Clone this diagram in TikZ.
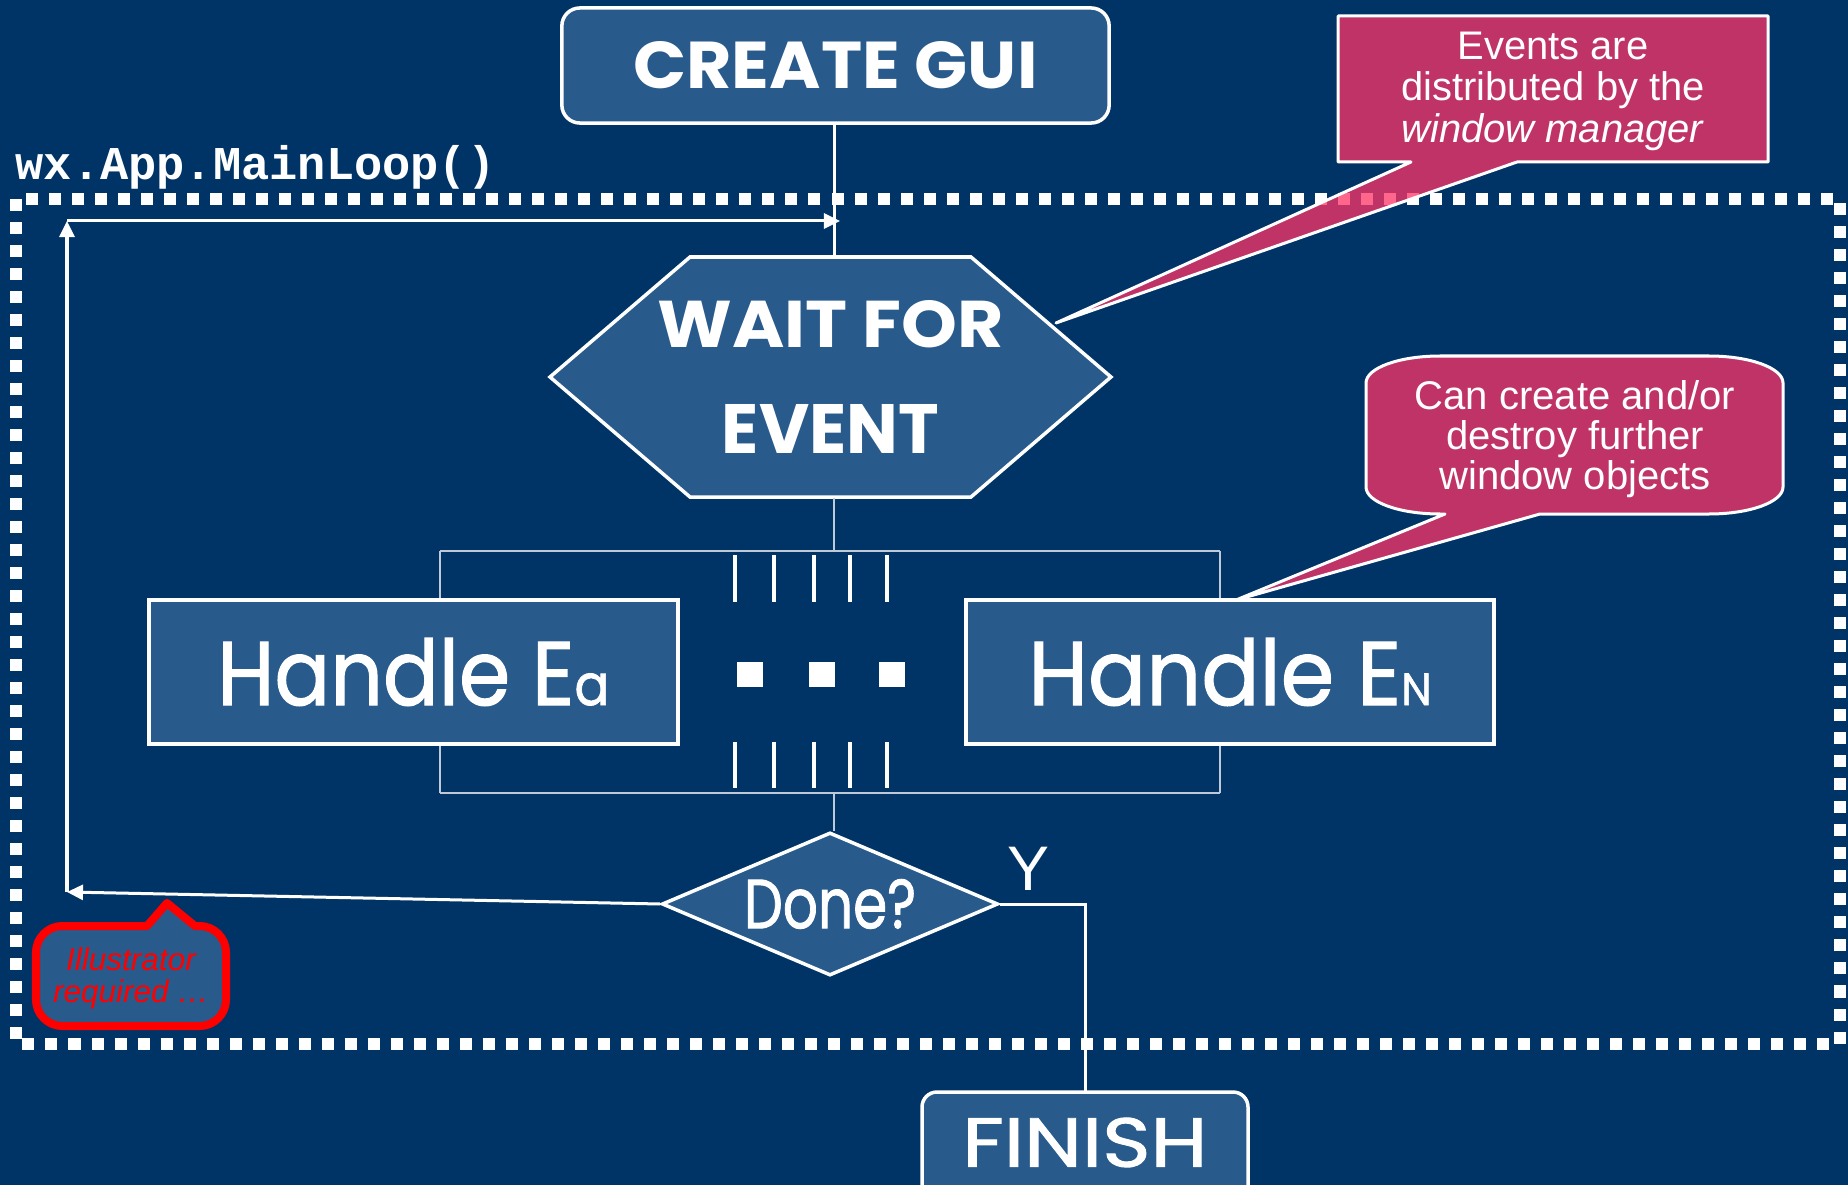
\documentclass[tikz,border=0pt]{standalone}
\usepackage{fontspec}
\setmainfont{Liberation Sans}
\newfontfamily\comic{Poppins}
\newfontfamily\comicr{Poppins}[FakeBold=1.3]
\newfontfamily\codefont{Liberation Mono}
\usetikzlibrary{arrows.meta,shapes.geometric,calc}
\definecolor{bgblue}{RGB}{0,51,102}
\definecolor{boxblue}{RGB}{40,90,140}
\definecolor{callpink}{RGB}{255,51,102}
\definecolor{bracketgrey}{RGB}{190,202,216}
\definecolor{illred}{RGB}{255,0,0}
\begin{document}
\begin{tikzpicture}[x=0.01cm, y=-0.01cm,
  flowbox/.style={draw=white, line width=0.035cm, fill=boxblue, inner sep=0pt, text=white},
  roundbox/.style={flowbox, rounded corners=0.18cm},
  link/.style={draw=white, line width=0.03cm},
  fanline/.style={draw=bracketgrey, line width=0.02cm},
  looparrow/.style={link, -{Triangle[length=0.16cm,width=0.15cm]}},
  callout/.style={fill=callpink, fill opacity=0.75, draw=white, line width=0.03cm, line join=round},
  illcallout/.style={fill=boxblue, draw=illred, line width=0.08cm, line join=round},
  loopborder/.style={draw=white, line width=0.12cm, dash pattern=on 0.12cm off 0.11cm},
  tickline/.style={draw=white, line width=0.035cm},
  calltext/.style={text=white, align=center, inner sep=0pt, anchor=north, font=\fontsize{11.35pt}{11.8pt}\selectfont}
]
\useasboundingbox (0,0) rectangle (1848,1185);
\clip (0,0) rectangle (1848,1185);
\fill[bgblue] (0,0) rectangle (1848,1185);

% title
\node[anchor=base west, inner sep=0pt, text=white, font=\codefont\bfseries\fontsize{13.37pt}{14pt}\selectfont] (title) at (15,180) {wx.App.MainLoop()};

% main loop border
\draw[loopborder] (16,199) rectangle (1840,1044);

% coordinates
\coordinate (btopL) at (440,551);
\coordinate (btopR) at (1220,551);
\coordinate (btop) at (834,551);
\coordinate (bbotL) at (440,793);
\coordinate (bbotR) at (1220,793);
\coordinate (bbot) at (834,793);
\coordinate (lb) at (67,892);
\coordinate (lt) at (67,221);
\coordinate (entry) at (840,221);

% nodes
\node[roundbox, minimum width=5.47cm, minimum height=1.15cm] (create) at (835.5,65.5)
  {\resizebox{4.04cm}{0.47cm}{\comic\bfseries CREATE GUI}};

\path[flowbox] (550,377) -- (690,257) -- (971,257) -- (1111,377) -- (971,497) -- (690,497) -- cycle;
\node[inner sep=0pt, minimum width=5.61cm, minimum height=2.40cm, text=white, align=center,
      font=\fontsize{10pt}{29.9pt}\selectfont] (wait) at (830.5,377)
  {\resizebox{3.46cm}{0.47cm}{\comic\bfseries WAIT FOR}\\\resizebox{2.17cm}{0.49cm}{\comic\bfseries EVENT}};

\node[flowbox, minimum width=5.29cm, minimum height=1.44cm] (hea) at (413.5,672)
  {\resizebox{3.92cm}{0.67cm}{\comicr\fontsize{20pt}{24pt}\selectfont Handle E{\fontsize{12.6pt}{14pt}\selectfont a}}};
\node[flowbox, minimum width=5.28cm, minimum height=1.44cm] (hen) at (1230,672)
  {\resizebox{4.03cm}{0.67cm}{\comicr\fontsize{20pt}{24pt}\selectfont Handle E{\fontsize{10pt}{12pt}\selectfont N}}};

\node[flowbox, diamond, aspect=2.35, minimum width=3.36cm, minimum height=1.43cm] (done) at (830,904)
  {\resizebox{1.72cm}{0.49cm}{\comicr Done?}};

\path[roundbox, rounded corners=0.15cm] (922,1092) rectangle (1248,1215);
\node[inner sep=0pt, minimum width=3.26cm, minimum height=0.9cm, anchor=north, text=white,
      text height=0.58cm, text depth=0cm] (finish) at (1085,1092)
  {\resizebox{2.45cm}{0.49cm}{\comicr FINISH}};

\node[anchor=base, inner sep=0pt, text=white, font=\fontsize{17.9pt}{20pt}\selectfont] (ylab) at (1028,890) {Y};

% connectors
\draw[link] (create.south -| btop) -- (wait.north -| btop);
\draw[fanline] (wait.south -| btop) -- (btop);
\draw[fanline] (btopL) -- (btopR);
\draw[fanline] (btopL) -- (btopL |- hea.north);
\draw[fanline] (btopR) -- (btopR |- hen.north);
\draw[fanline] (bbotL) -- (bbotR);
\draw[fanline] (bbotL) -- (bbotL |- hea.south);
\draw[fanline] (bbotR) -- (bbotR |- hen.south);
\draw[fanline] (bbot) -- (done.north -| bbot);
\draw[link] (done.east) -| (finish.north);
\draw[looparrow] (done.west) -- (lb);
\draw[looparrow] (lb) -- (lt);
\draw[looparrow] (lt) -- (entry);

% parallel ticks and ellipsis
\foreach \tx in {735,774,814,850,887} {
  \draw[tickline] (\tx,555) -- (\tx,602);
  \draw[tickline] (\tx,742) -- (\tx,788);
}
\foreach \dx in {737,809,879} {
  \fill[white] (\dx,662) rectangle ++(26,25);
}

% callout: events
\path[callout] (1338,16) -- (1768,16) -- (1768,162) -- (1517,162) -- (1056,323) -- (1411,162) -- (1338,162) -- cycle;
\node[calltext] (evtxt) at (1553,31) {Events are\\distributed by the\\\textit{window manager}};

% callout: create/destroy
\path[callout] (1440,356) -- (1709,356)
  .. controls (1750,356) and (1783,368) .. (1783,383) -- (1783,487)
  .. controls (1783,502) and (1750,514) .. (1709,514)
  -- (1540,514) -- (1236,600) -- (1445,514) -- (1440,514)
  .. controls (1399,514) and (1366,502) .. (1366,487) -- (1366,383)
  .. controls (1366,368) and (1399,356) .. (1440,356) -- cycle;
\node[calltext, font=\fontsize{11.38pt}{11.38pt}\selectfont] (cdtxt) at (1575,380) {Can create and/or\\destroy further\\window objects};

% illustrator callout
\path[illcallout] (62,926) -- (147,926) -- (167,903) -- (195,926) -- (200,926)
  .. controls (214,926) and (226,938) .. (226,952) -- (226,1000)
  .. controls (226,1014) and (214,1026) .. (200,1026) -- (62,1026)
  .. controls (48,1026) and (36,1014) .. (36,1000) -- (36,952)
  .. controls (36,938) and (48,926) .. (62,926) -- cycle;
\node[inner sep=0pt, anchor=north, align=center, text=illred, font=\itshape\fontsize{8.96pt}{9.1pt}\selectfont] (illtxt) at (131,947) {Illustrator\\required \dots};
\end{tikzpicture}
\end{document}
